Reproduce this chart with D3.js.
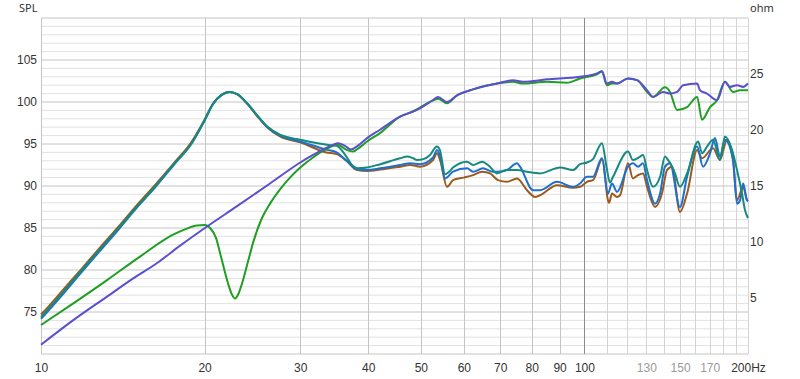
<!DOCTYPE html>
<html>
<head>
<meta charset="utf-8">
<script src="https://cdn.jsdelivr.net/npm/d3@7"></script>
<style>
  body { margin: 0; background: #fff; }
  svg { display: block; font-family: "Noto Sans", "Open Sans", sans-serif; }
</style>
</head>
<body>
<svg id="chart" width="800" height="379"></svg>
<script>
// ticks
const freqTicks = [10, 20, 30, 40, 50, 60, 70, 80, 90, 100, 110, 120, 130, 140, 150, 160, 170, 180, 190, 200];
const freqLabels = { 10: "10", 20: "20", 30: "30", 40: "40", 50: "50", 60: "60", 70: "70", 80: "80", 90: "90", 100: "100", 130: "130", 150: "150", 170: "170", 200: "200Hz" };
const greyLabels = [130, 150, 170];
const splTicks = [75, 80, 85, 90, 95, 100, 105];
const ohmTicks = [5, 10, 15, 20, 25];

// series: [Hz, dB]
const brown = [[10,74.7],[10.17,75.2],[11,77.7],[11.9,80.2],[12.85,82.7],[13.9,85.2],[15.0,87.7],[16.25,90.2],[17.55,92.7],[18.9,95.2],[20.0,97.9],[20.73,99.8],[21.5,100.85],[22.2,101.2],[23.0,100.9],[23.94,99.8],[25,98.3],[26.06,97.0],[27.53,95.9],[30,95.2],
  [33.5,94.0],[35,93.8],[36.5,93.0],[38.15,91.9],[39.8,91.8],[42.1,91.95],[45.8,92.3],[47.8,92.5],[49.8,92.3],[52.65,93.1],[53.55,93.9],[54.24,93.1],[55.87,89.9],[57.31,90.7],[60,91.0],[62.37,91.3],[64.79,91.7],[67.04,91.5],[69.34,90.7],[72.03,90.5],[75.16,90.9],[78.42,89.5],[81.11,88.7],[82.85,88.9],[89.04,90.1],[95.28,89.8],[98.15,89.9],[101.1,90.5],[103.7,90.7],[107.9,93.2],
  [110.5,88.3],[111.0,88.0],[112.4,89.1],[114.8,88.7],[116.3,88.9],[120.3,92.7],[122.8,90.9],[125.5,91.3],[128.2,91.5],[130.4,89.9],[134.9,87.5],[138.9,89.1],[141.9,91.9],[145.0,92.3],[149.9,86.9],[154.5,89.1],[161.2,94.3],[164.6,93.3],[172.5,94.5],[177.6,93.1],[183.0,95.5],[187.7,93.1],[190.9,88.3],[195.9,89.9],[199.2,88.3],[200,88.2]];

const blue = [[10,74.2],[10.17,74.7],[11,77.2],[11.9,79.8],[12.85,82.3],[13.9,84.85],[15.0,87.4],[16.25,89.9],[17.55,92.5],[18.9,95],[20.0,97.8],[20.73,99.75],[21.5,100.85],[22.2,101.2],[23.0,100.9],[23.94,99.85],[25,98.4],[26.06,97.05],[27.53,96.0],[30,95.3],
  [33.6,94.3],[35,94.0],[36.5,93.0],[38.2,92.0],[39.8,91.9],[42.1,92.1],[45.8,92.5],[47.8,92.7],[49.8,92.6],[52.65,93.4],[53.55,94.3],[54.24,93.6],[55.41,90.9],[57.31,91.7],[60.81,92.1],[62.37,91.7],[65.07,92.1],[67.88,91.7],[69.34,91.7],[72.03,91.9],[75.16,92.7],[76.12,92.3],[80.42,89.5],[82.85,89.5],[89.04,90.5],[95.28,89.9],[98.15,90.3],[101.1,91.1],[103.7,91.1],[107.7,93.3],
  [110.5,89.1],[112.4,90.3],[114.8,89.3],[120.3,92.3],[122.8,92.7],[125.5,92.3],[128.2,92.7],[130.4,90.7],[134.9,87.9],[137.8,89.1],[140.7,92.3],[143.7,92.7],[149.9,87.5],[154.5,91.1],[161.2,94.7],[165.3,92.3],[170.3,93.9],[173.9,95.7],[177.6,93.5],[181.4,95.5],[187.7,93.1],[190.9,87.9],[193.4,88.3],[195.9,90.3],[199.2,88.3],[200,88.2]];

const teal = [[10,74.4],[10.17,74.9],[11,77.4],[11.9,80],[12.85,82.5],[13.9,85],[15.0,87.5],[16.25,90],[17.55,92.6],[18.9,95],[20.0,97.8],[20.73,99.8],[21.5,100.85],[22.2,101.2],[23.0,100.9],[23.94,99.85],[25,98.4],[26.06,97.1],[27.53,96.1],[30,95.5],
  [33.6,94.9],[35.0,94.8],[36.2,93.8],[37.5,92.4],[38.2,92.1],[39.8,92.2],[42.1,92.6],[45.8,93.3],[47.2,93.5],[48.4,93.3],[49.2,93.1],[50.5,93.2],[52.0,93.7],[53.5,94.7],[54.2,94.3],[55.4,91.4],[56.6,91.8],[57.3,92.2],[60.8,92.9],[62.4,92.5],[64.8,92.9],[67.0,92.3],[69.0,91.5],[72.0,91.9],[75.2,91.9],[78.4,91.7],[82.9,91.5],[90.2,92.2],[95.3,91.9],[98.2,92.6],[101.1,92.8],[103.7,93.2],[107.7,95.1],
  [110.0,92.0],[111.4,90.4],[112.9,91.1],[120.3,94.1],[122.8,93.1],[126.6,93.5],[128.2,93.7],[130.4,91.9],[133.7,89.9],[137.8,91.1],[140.7,93.5],[142.5,93.1],[146.8,91.5],[149.9,89.9],[154.5,91.5],[161.9,95.3],[164.6,93.9],[168.1,94.7],[172.5,95.5],[177.6,93.1],[181.4,95.9],[186.9,94.3],[190.9,91.9],[195.0,89.1],[197.5,87.1],[200,86.2]];

const green = [[10,73.45],[11.45,76.0],[13.23,78.8],[15.21,81.6],[17.5,84.2],[18.5,84.9],[19.37,85.3],[20.04,85.35],[20.47,85.0],[21.0,83.8],[21.36,82.0],[22.09,78.4],[22.45,77.1],[22.75,76.6],[23.1,77.2],[23.44,78.4],[24.04,81.0],[24.55,83.2],[25.47,86.1],[26.39,87.9],[27.53,89.6],[28.72,91.0],[30,92.2],[31.66,93.4],[33.5,94.4],[35.05,94.9],[35.5,94.8],[36.5,94.3],[37.52,94.1],[38.6,94.6],[39.81,95.3],[42.06,96.3],[45.78,98.25],
  [48.4,98.9],[52.65,100.2],[53.78,100.4],[55.87,99.85],[58.29,100.8],[62.37,101.5],[69.04,102.2],[73.88,102.4],[77.09,102.2],[85.34,102.4],[92.89,102.3],[98.15,102.8],[105.5,103.3],[107.7,103.6],[110.0,102.0],[112.4,102.2],[114.8,102.2],[120.3,102.8],[125.0,102.6],[130.4,101.2],[133.7,100.6],[140.7,101.75],[143.7,101.2],[148.1,99.05],[154.5,99.4],[161.2,100.6],[164.6,97.9],[170.3,99.4],[175.4,100.2],[181.4,102.4],[187.7,101.2],[193.4,101.4],[200,101.4]];

const purple = [[10,71.1],[11.45,74.0],[13.21,76.8],[14.78,79.0],[16.33,80.8],[18.03,82.9],[20.18,85.15],[22.95,87.6],[26.39,90.3],[30,92.8],[31.66,93.7],[34.46,94.9],[35.2,95.1],[36.2,94.8],[37.2,94.35],[38.3,94.8],[39.81,95.7],[42.06,96.7],[45.78,98.25],[48.37,98.85],[49.83,99.25],[52.65,100.24],[53.78,100.6],[55.87,100.0],[58.29,100.8],[62.37,101.5],[69.04,102.2],[73.88,102.6],[77.09,102.4],[85.34,102.7],[98.15,103.0],[105.5,103.4],[107.7,103.7],
  [110.0,102.2],[112.4,102.4],[114.8,102.2],[120.3,102.8],[125.0,102.6],[130.4,101.4],[133.7,100.6],[139.5,101.2],[143.7,101.0],[148.1,101.2],[151.9,102.0],[161.2,102.2],[163.2,101.4],[168.1,101.0],[175.4,100.2],[181.4,102.4],[185.3,101.8],[190.9,102.0],[195.9,101.8],[200,102.2]];

const series = [
  { data: brown, color: "#9b5a1e" },
  { data: blue, color: "#1f6fcc" },
  { data: teal, color: "#168a7e" },
  { data: green, color: "#1f9e24" },
  { data: purple, color: "#5a4fcf" }
];

const svg = d3.select("#chart");
const margin = { top: 18, right: 52, bottom: 25, left: 41 };
const width = 800, height = 379;

const x = d3.scaleLog().domain([10, 200]).range([margin.left, width - margin.right]);
const y = d3.scaleLinear().domain([70, 110]).range([height - margin.bottom, margin.top]);
const yOhm = d3.scaleLinear().domain([0, 30]).range([height - margin.bottom, margin.top]);

// horizontal grid, 1 dB steps
svg.append("g")
  .selectAll("line")
  .data(d3.range(70, 111, 1))
  .join("line")
  .attr("x1", x(10)).attr("x2", x(200))
  .attr("y1", d => y(d)).attr("y2", d => y(d))
  .attr("stroke", d => d % 5 === 0 ? "#c4c4c4" : "#e2e2e2")
  .attr("stroke-width", 1);

// vertical grid
svg.append("g")
  .selectAll("line")
  .data(freqTicks)
  .join("line")
  .attr("x1", d => Math.round(x(d)) + 0.5).attr("x2", d => Math.round(x(d)) + 0.5)
  .attr("y1", y(110)).attr("y2", y(70))
  .attr("stroke", d => d === 100 ? "#8c8c8c" : (d <= 100 ? "#c4c4c4" : "#d4d4d4"))
  .attr("stroke-width", 1);

const xAxis = g =>
  g.attr("transform", `translate(0,${height - margin.bottom})`)
    .call(d3.axisBottom(x).tickValues(Object.keys(freqLabels).map(Number)).tickFormat(d => freqLabels[d]).tickSize(0).tickPadding(9))
    .call(g => g.select(".domain").remove())
    .call(g => g.selectAll(".tick text")
      .style("font-size", "12px")
      .attr("fill", d => greyLabels.includes(d) ? "#9a9a9a" : "#333"));

const yAxis = g =>
  g.attr("transform", `translate(${margin.left},0)`)
    .call(d3.axisLeft(y).tickValues(splTicks).tickSize(0).tickPadding(4))
    .call(g => g.select(".domain").remove())
    .call(g => g.selectAll(".tick text").style("font-size", "12px").attr("fill", "#333"));

const yAxisRight = g =>
  g.attr("transform", `translate(${width - margin.right},0)`)
    .call(d3.axisRight(yOhm).tickValues(ohmTicks).tickSize(0).tickPadding(2))
    .call(g => g.select(".domain").remove())
    .call(g => g.selectAll(".tick text").style("font-size", "12px").attr("fill", "#333"));

svg.append("g").call(xAxis);
svg.append("g").call(yAxis);
svg.append("g").call(yAxisRight);

svg.append("text").attr("x", 19).attr("y", 12).text("SPL")
  .style("font-size", "11px").attr("fill", "#333");
svg.append("text").attr("x", 750).attr("y", 12).text("ohm")
  .style("font-size", "11px").attr("fill", "#333");

const line = d3.line()
  .x(d => x(d[0]))
  .y(d => y(d[1]))
  .curve(d3.curveMonotoneX);

svg.append("g")
  .selectAll("path")
  .data(series)
  .join("path")
  .attr("d", d => line(d.data))
  .attr("fill", "none")
  .attr("stroke", d => d.color)
  .attr("stroke-width", 2)
  .attr("stroke-linejoin", "round");
</script>
</body>
</html>
